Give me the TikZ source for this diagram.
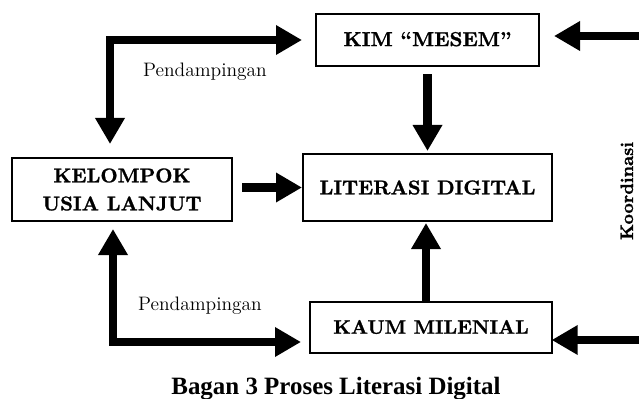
\documentclass[tikz,border=0pt]{standalone}
\usepackage{fontspec}
\newfontfamily\capfont{Liberation Serif}
\newfontfamily\boxfont{lmroman10-bold.otf}[FakeBold=1.2]
\usetikzlibrary{arrows.meta}
\begin{document}
\begin{tikzpicture}[x=0.75pt,y=-0.75pt,
  box/.style={draw,line width=1.5pt,inner sep=0pt,align=center},
  arr/.style={line width=6.4pt,line cap=butt,line join=miter,-{Triangle[length=19.5pt,width=21pt]}},
  dbl/.style={line width=6.4pt,line cap=butt,line join=miter,{Triangle[length=19.5pt,width=21pt]}-{Triangle[length=19.5pt,width=21pt]}},
  lbl/.style={font=\fontsize{14.6}{17}\selectfont}]
\useasboundingbox (0,0) rectangle (639,399);
\node[box,minimum width=167.25pt,minimum height=39pt,font=\boxfont\bfseries\fontsize{15.2}{20}\selectfont] (kim) at (427.5,40.5) {\raisebox{2.2pt}{KIM “MESEM”}};
\node[box,minimum width=186.75pt,minimum height=50.25pt,font=\boxfont\bfseries\fontsize{15}{20}\selectfont] (lit) at (427.5,187.5) {LITERASI DIGITAL};
\node[box,minimum width=165pt,minimum height=47.25pt,font=\boxfont\bfseries\fontsize{15}{21}\selectfont] (kel) at (122,189.5) {KELOMPOK\\USIA LANJUT};
\node[box,minimum width=181.5pt,minimum height=38.25pt,font=\boxfont\bfseries\fontsize{14.7}{20}\selectfont] (kaum) at (431,327) {KAUM MILENIAL};
\coordinate (t1) at (110,40);
\coordinate (b1) at (113,342);
\coordinate (r1) at (639,36);
\coordinate (r2) at (639,340);
\draw[dbl,shorten <=9.75pt,shorten >=9.75pt] (kim.west |- t1) -| (kel.north -| t1);
\draw[dbl,shorten <=5.25pt,shorten >=6pt] (kel.south -| b1) -- (b1) -- (kaum.west |- b1);
\draw[arr,shorten <=5.25pt,shorten >=1.5pt] (kim.south) -- (lit.north);
\draw[arr,shorten <=6.75pt] (kel.east |- 0,187.5) -- (lit.west |- 0,187.5);
\draw[arr,shorten >=0.75pt] (kaum.north -| 426,0) -- (lit.south -| 426,0);
\draw[arr,shorten >=10.5pt] (r1) -- (kim.east |- r1);
\draw[arr,shorten >=-1pt] (r2) -- (kaum.east |- r2);
\node[lbl] (p1) at (205,72) {Pendampingan};
\node[lbl] (p2) at (200,306) {Pendampingan};
\node[font=\boxfont\bfseries\fontsize{13.5}{16}\selectfont,rotate=90,anchor=base] (koor) at (633,191) {Koordinasi};
\node[font=\capfont\fontsize{18.7}{20}\selectfont\bfseries,anchor=base] (cap) at (336,394) {Bagan 3 Proses Literasi Digital};
\end{tikzpicture}
\end{document}
